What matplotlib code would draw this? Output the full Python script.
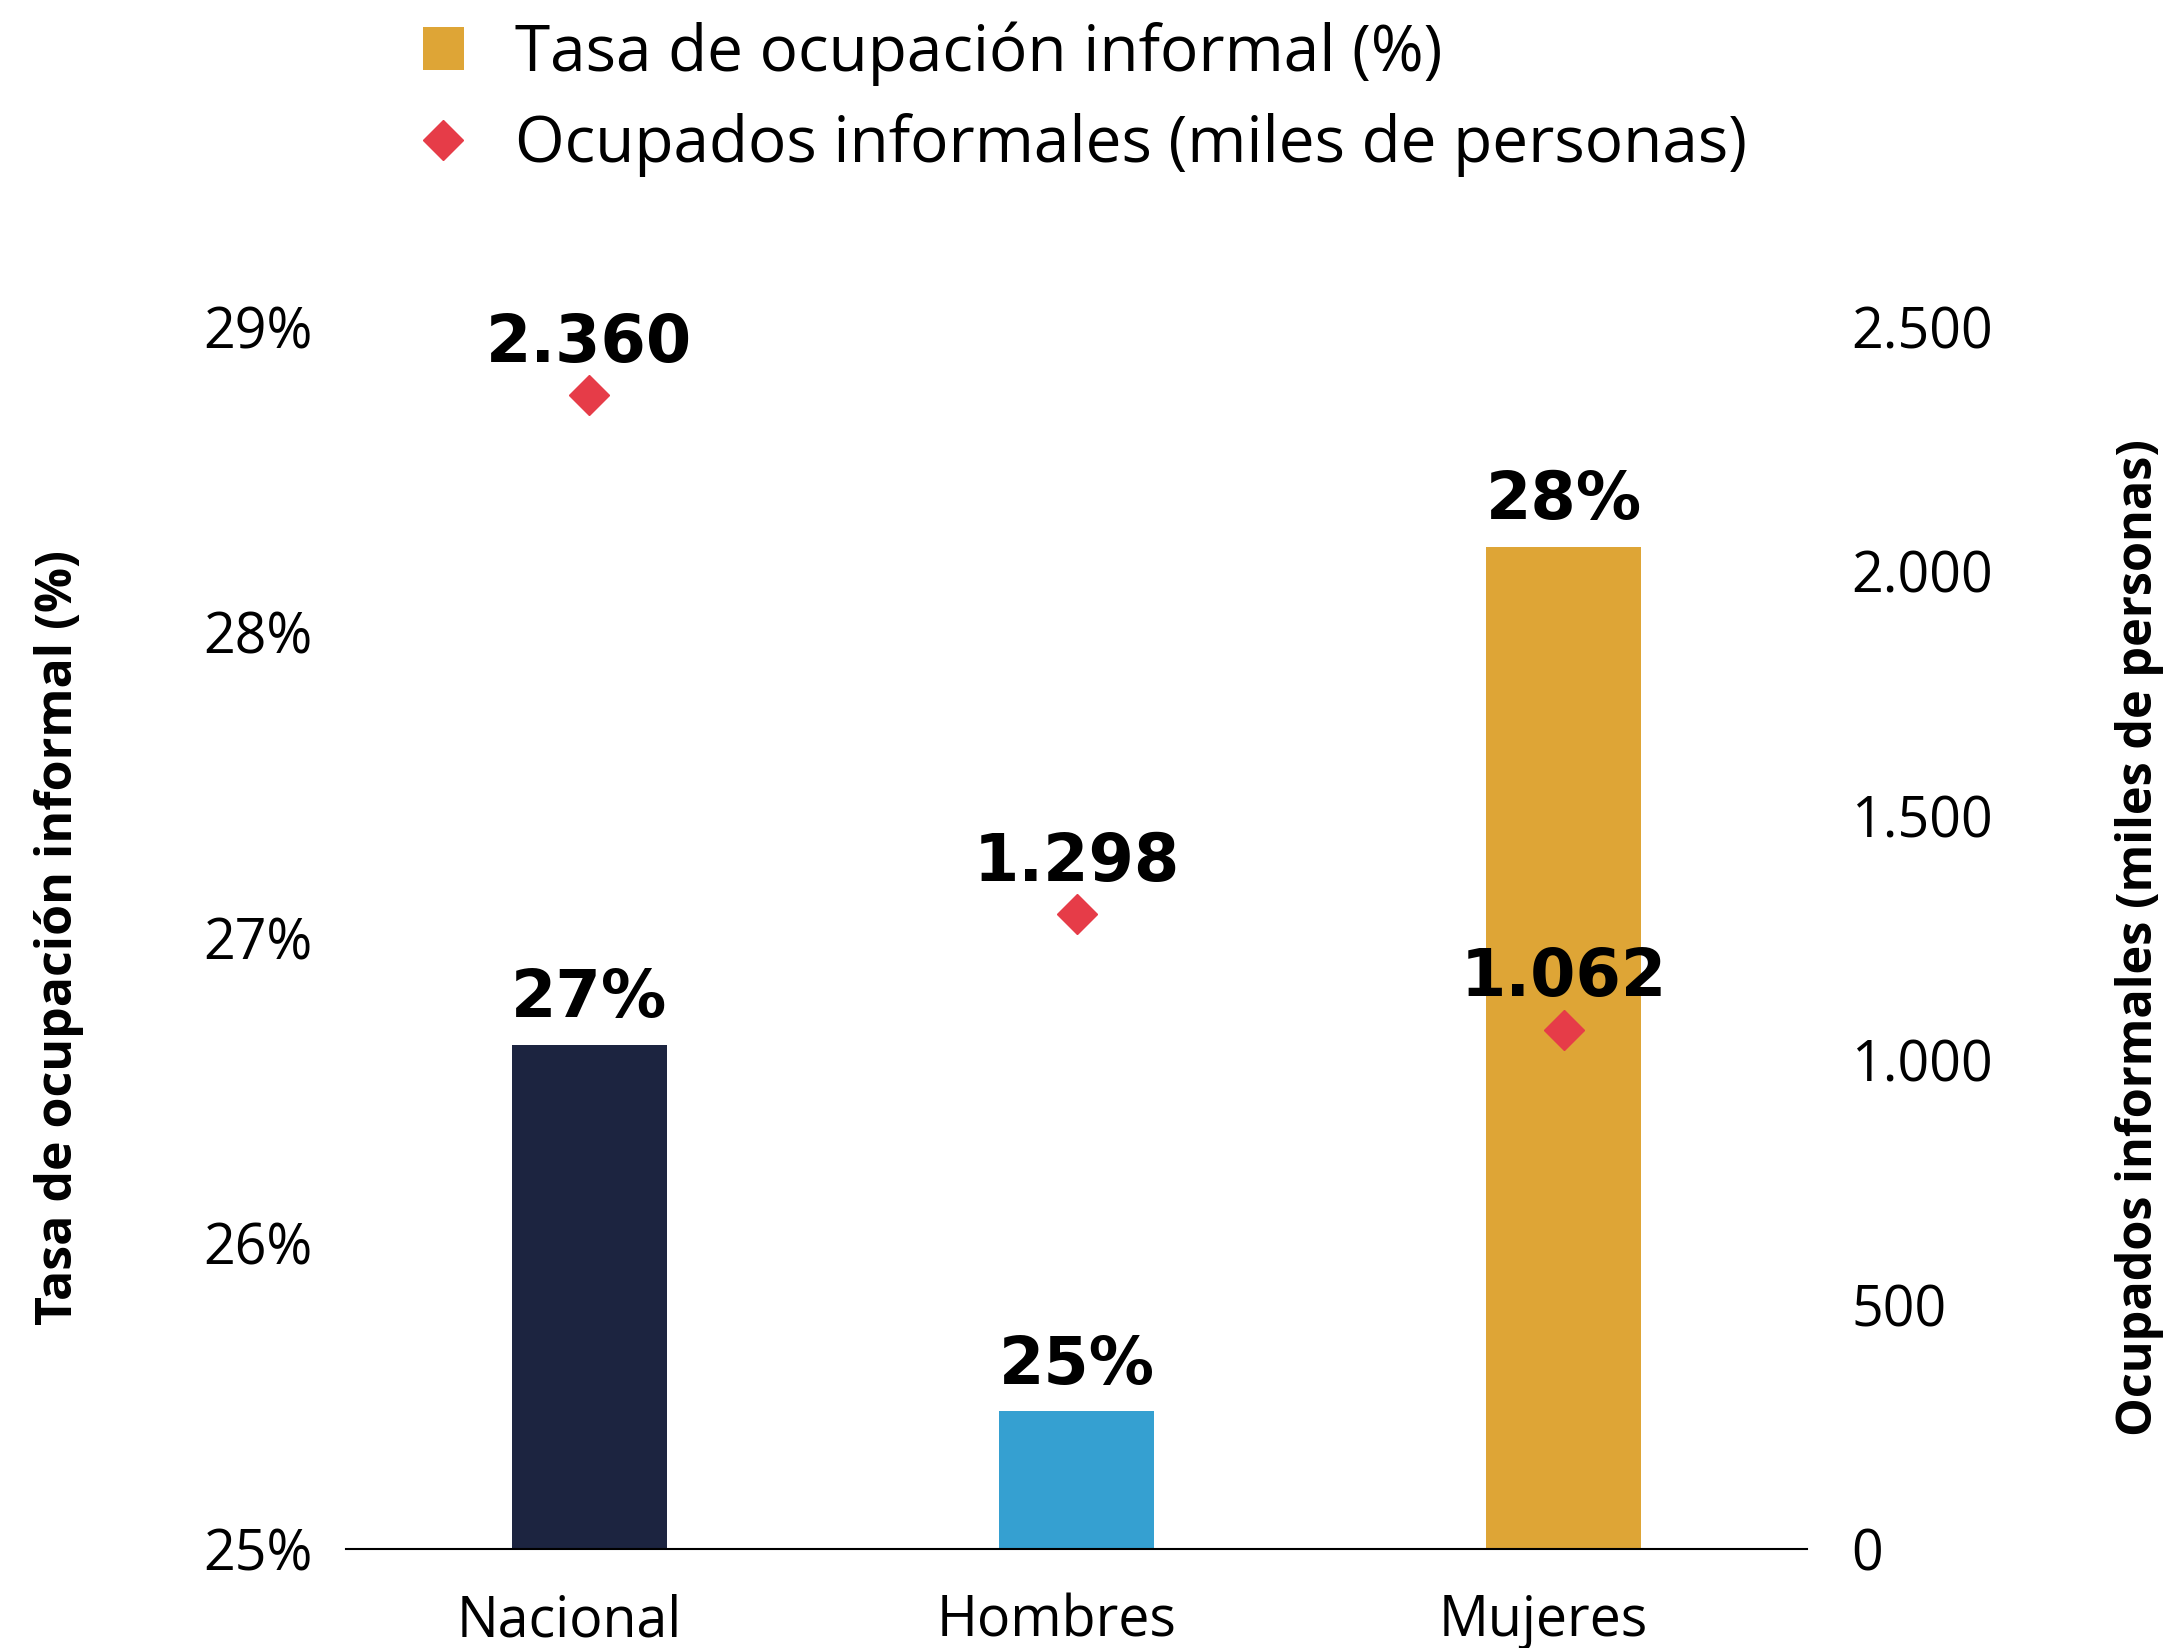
import matplotlib
matplotlib.use("Agg")
import matplotlib.pyplot as plt
import matplotlib.transforms as mtransforms
from matplotlib.patches import Patch
from matplotlib.lines import Line2D
from matplotlib.ticker import FuncFormatter

plt.rcParams['font.family'] = ['Open Sans', 'DejaVu Sans']

# data
categories = ["Nacional", "Hombres", "Mujeres"]
tasa_informal = [26.65, 25.45, 28.28]          # % (left axis)
tasa_labels = ["27%", "25%", "28%"]
ocupados_miles = [2360, 1298, 1062]            # miles de personas (right axis)
ocupados_labels = ["2.360", "1.298", "1.062"]
bar_colors = ["#1c2440", "#35a0d1", "#dea536"]
diamond_color = "#e63c48"

BOLD = dict(fontsize=47, fontweight="bold", family="DejaVu Sans")

fig = plt.figure(figsize=(21.73, 16.48), dpi=100)
ax = fig.add_axes([0.1592, 0.0601, 0.6724, 0.7415])
ax2 = ax.twinx()

x = list(range(len(categories)))
ax.bar(x, [v - 25 for v in tasa_informal], bottom=25, width=0.32,
       color=bar_colors, zorder=2)
for xi, v, lab in zip(x, tasa_informal, tasa_labels):
    ax.annotate(lab, (xi, v), xytext=(0, 10), textcoords="offset points",
                ha="center", va="bottom", **BOLD)

ax.set_xlim(-0.5, 2.5)
ax.set_ylim(25, 29)
ax.set_yticks([25, 26, 27, 28, 29])
ax.yaxis.set_major_formatter(FuncFormatter(lambda v, p: f"{v:.0f}%"))
ax.set_xticks(x)
ax.set_xticklabels(categories)
ax.tick_params(axis="y", length=0, pad=24, labelsize=40)
ax.tick_params(axis="x", length=0, pad=32, labelsize=40)
# category labels sit a little left of the bar centres in the original
shift = mtransforms.ScaledTranslation(-0.2, 0, fig.dpi_scale_trans)
for lbl in ax.get_xticklabels():
    lbl.set_transform(lbl.get_transform() + shift)
for s in ["top", "right", "left"]:
    ax.spines[s].set_visible(False)
ax.spines["bottom"].set_linewidth(1.5)
ax.set_ylabel("Tasa de ocupación informal (%)", fontsize=36,
              fontweight="bold", labelpad=86)

ax2.plot(x, ocupados_miles, linestyle="none", marker="D", markersize=20,
         color=diamond_color, zorder=3)
for xi, v, lab in zip(x, ocupados_miles, ocupados_labels):
    ax2.annotate(lab, (xi, v), xytext=(0, 14), textcoords="offset points",
                 ha="center", va="bottom", **BOLD)
ax2.set_ylim(0, 2500)
ax2.set_yticks([0, 500, 1000, 1500, 2000, 2500])
ax2.yaxis.set_major_formatter(
    FuncFormatter(lambda v, p: f"{v:,.0f}".replace(",", ".")))
ax2.tick_params(axis="y", length=0, pad=32, labelsize=40)
for s in ["top", "right", "left", "bottom"]:
    ax2.spines[s].set_visible(False)
ax2.set_ylabel("Ocupados informales (miles de personas)", fontsize=35,
               fontweight="bold", labelpad=88)

handles = [
    Patch(facecolor="#dea536", edgecolor="none",
          label="Tasa de ocupación informal (%)"),
    Line2D([], [], linestyle="none", marker="D", markersize=20,
           color=diamond_color, label="Ocupados informales (miles de personas)"),
]
fig.legend(handles=handles, loc="upper left", bbox_to_anchor=(0.168, 1.022),
           frameon=False, fontsize=46, handlelength=0.65, handleheight=0.65,
           handletextpad=0.8, labelspacing=0.42)

fig.savefig("out.png", dpi=100, facecolor="white")
